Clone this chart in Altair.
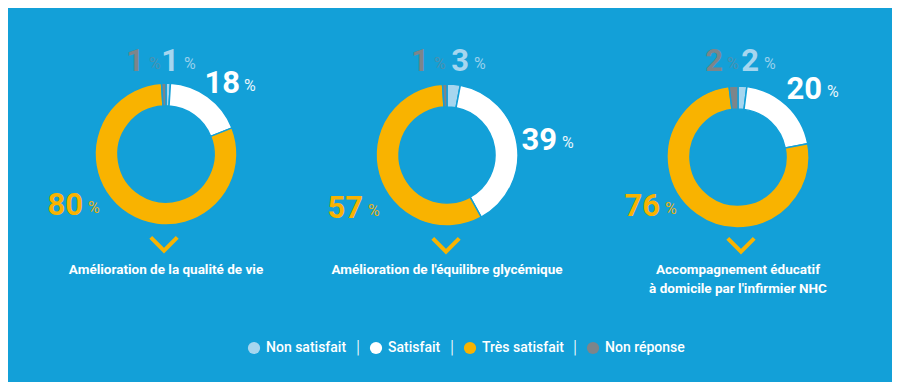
import altair as alt
import pandas as pd

# ---------------- data ----------------
categories = ["Non satisfait", "Satisfait", "Très satisfait", "Non réponse"]
panels = [
    "Amélioration de la qualité de vie",
    "Amélioration de l'équilibre glycémique",
    "Accompagnement éducatif\nà domicile par l'infirmier NHC",
]
values_qualite = [1, 18, 80, 1]
values_equilibre = [3, 39, 57, 1]
values_accomp = [2, 20, 76, 2]
all_values = [values_qualite, values_equilibre, values_accomp]

# ---------------- style / layout ----------------
BG = "#13a0d8"
colors = ["#a6d6ef", "#ffffff", "#f9b300", "#7d858a"]
color_of = dict(zip(categories, colors))
FONT = "Roboto, 'DejaVu Sans Condensed', sans-serif"
OFF = 8  # page margin

centers = [(166, 154), (447, 155), (738, 157)]
R_OUT, R_IN = 71, 48
# per panel: category -> (number right edge x, centre y, percent left x)
label_pos = [
    {"Non réponse": (144, 61, 149), "Non satisfait": (179, 61, 184),
     "Satisfait": (240, 83, 244), "Très satisfait": (83, 205, 88)},
    {"Non réponse": (429, 61, 434), "Non satisfait": (469, 61, 474),
     "Satisfait": (557, 140, 562), "Très satisfait": (363, 208, 368)},
    {"Non réponse": (723, 61, 727), "Non satisfait": (759, 61, 764),
     "Satisfait": (822, 89, 827), "Très satisfait": (660, 206, 665)},
]
chevron_pos = [(164, 244), (446, 245), (741, 245)]
caption_y = 263

color_scale = alt.Scale(domain=categories, range=colors)
legend = alt.Legend(
    title=None, orient="none", direction="horizontal",
    legendX=247 - OFF, legendY=341 - OFF,
    symbolType="circle", symbolSize=150, symbolStrokeWidth=0,
    labelColor="white", labelFont=FONT, labelFontSize=14,
    labelFontWeight=500, labelOffset=5, columnPadding=22,
    symbolOpacity=1,
)

layers = []
for p, vals in enumerate(all_values):
    df = pd.DataFrame({"cat": categories, "value": vals, "idx": list(range(4)),
                       "panel": [panels[p]] * 4})
    base = alt.Chart(df)
    cx, cy = centers[p]
    arc = base.mark_arc(radius=R_OUT, radius2=R_IN, stroke=BG, strokeWidth=1.5).encode(
        theta=alt.Theta("value:Q", stack=True, scale=alt.Scale(domain=[0, 100])),
        color=alt.Color("cat:N", scale=color_scale, legend=legend),
        order=alt.Order("idx:Q"),
        x=alt.value(cx - OFF), y=alt.value(cy - OFF),
    )
    layers.append(arc)
    for cat, (nx, ny, px) in label_pos[p].items():
        sub = base.transform_filter(alt.datum.cat == cat)
        num = sub.mark_text(
            align="right", baseline="middle", font=FONT, fontSize=31,
            fontWeight="bold", color=color_of[cat],
        ).encode(text=alt.Text("value:Q"), x=alt.value(nx - OFF), y=alt.value(ny + 1 - OFF))
        pct = sub.mark_text(
            align="left", baseline="middle", font=FONT, fontSize=16,
            color=color_of[cat], opacity=0.5 if cat == "Non réponse" else 0.9, text="%",
        ).encode(x=alt.value(px - OFF), y=alt.value(ny + 3 - OFF))
        layers += [num, pct]
    first = base.transform_filter(alt.datum.idx == 0)
    chev_x, chev_y = chevron_pos[p]
    chev = first.mark_point(
        shape="M -1 -0.5 L 0 0.5 L 1 -0.5", filled=False, size=700,
        stroke="#f9b300", strokeWidth=4, opacity=1, strokeJoin="miter",
    ).encode(x=alt.value(chev_x - OFF), y=alt.value(chev_y - OFF))
    cap = first.mark_text(
        align="center", baseline="top", font=FONT, fontSize=13.5,
        fontWeight="bold", color="white", lineBreak="\n", lineHeight=19,
    ).encode(text="panel:N", x=alt.value(cx - OFF), y=alt.value(caption_y - OFF))
    layers += [chev, cap]

# legend separators
sep_df = pd.DataFrame({"s": ["|"]})
for sx in [358, 452, 575]:
    layers.append(
        alt.Chart(sep_df).mark_text(
            text="|", font=FONT, fontSize=18, fontWeight=300, color="white", baseline="middle",
        ).encode(x=alt.value(sx - OFF), y=alt.value(348 - OFF))
    )

chart = alt.layer(*layers).resolve_scale(theta="independent").properties(
    width=900 - 2 * OFF, height=390 - 2 * OFF, background=BG, padding=0,
    autosize=alt.AutoSizeParams(type="none"),
).configure_view(stroke=None)

chart.save("out.html", embed_options={"renderer": "svg", "actions": False})
